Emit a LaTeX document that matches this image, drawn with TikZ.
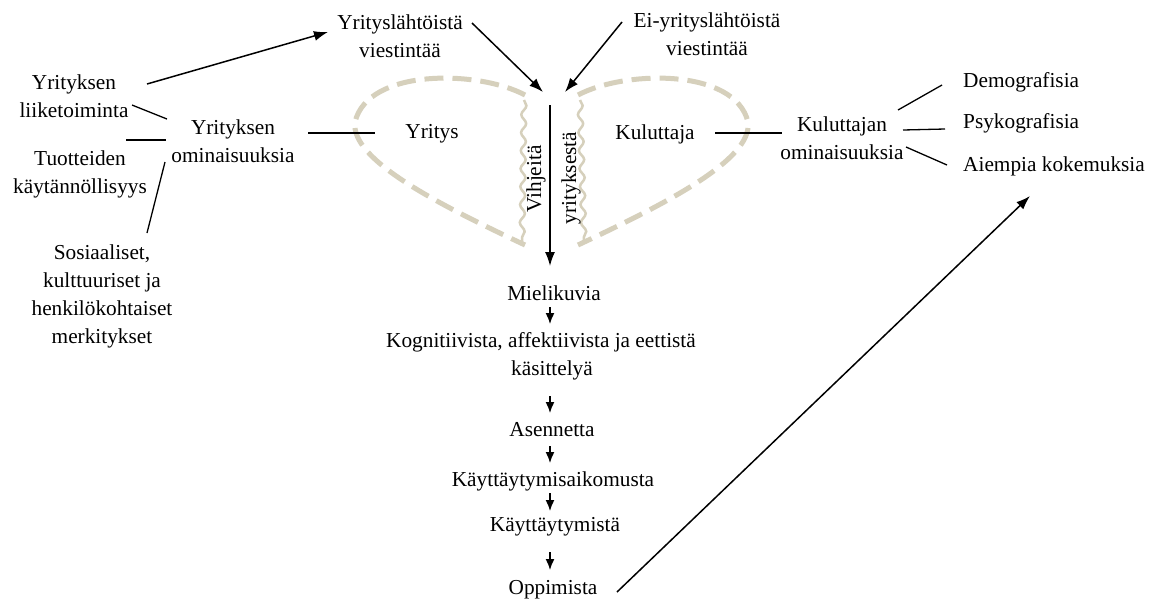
\documentclass[tikz,border=0pt]{standalone}
\usepackage{fontspec}
\setmainfont{Liberation Serif}
\usetikzlibrary{arrows.meta,decorations.pathmorphing,calc}
\definecolor{beige}{RGB}{214,208,188}
\begin{document}
\begin{tikzpicture}[x=1pt,y=-1pt,
  every node/.style={font=\fontsize{21.3}{28}\selectfont, align=center, inner sep=0pt},
  ln/.style={line width=1.3pt},
  arr/.style={line width=1.5pt,-{Latex[length=14pt,width=10pt]}},
  sarr/.style={line width=1.5pt,-{Latex[length=11pt,width=9pt]}},
  lobe/.style={beige,line width=5pt,dash pattern=on 19pt off 9pt},
  wav/.style={beige,line width=2.5pt,decorate,decoration={snake,amplitude=2.5pt,segment length=18pt}}]
\useasboundingbox[fill=white] (0,0) rectangle (1154,603);

% lobes
\draw[lobe] (525,95) .. controls (478,70) and (368,68) .. (355,122) .. controls (350,160) and (440,205) .. (525,245);
\draw[lobe] (578,95) .. controls (625,70) and (735,68) .. (748,122) .. controls (753,160) and (663,205) .. (578,245);
\draw[wav] (524,100) -- (522,242);
\draw[wav] (580,100) -- (584,242);

% nodes
\node (yl) at (400,36) {Yrityslähtöistä\\viestintää};
\node (el) at (707,34) {Ei-yrityslähtöistä\\viestintää};
\node (lik) at (74,96) {Yrityksen\\liiketoiminta};
\node (yo) at (233,141) {Yrityksen\\ominaisuuksia};
\node (tuo) at (80,174) {Tuotteiden\\käytännöllisyys};
\node (sos) at (102,296) {Sosiaaliset,\\kulttuuriset ja\\henkilökohtaiset\\merkitykset};
\node (yr) at (432,134) {Yritys};
\node (ku) at (655,134) {Kuluttaja};
\node (ko) at (842,138) {Kuluttajan\\ominaisuuksia};
\node[anchor=west] (dem) at (963,82) {Demografisia};
\node[anchor=west] (psy) at (963,123) {Psykografisia};
\node[anchor=west] (aie) at (963,166) {Aiempia kokemuksia};
\node[rotate=90] (vih) at (536,179) {Vihjeitä};
\node[rotate=90] (yri) at (571,178) {yrityksestä};
\node (mie) at (554,293) {Mielikuvia};
\node (kog) at (541,356) {Kognitiivista, affektiivista ja eettistä\\\hspace*{22pt}käsittelyä};
\node (ase) at (552,430) {Asennetta};
\node (kai) at (553,481) {Käyttäytymisaikomusta};
\node (kay) at (555,527) {Käyttäytymistä};
\node (opp) at (553,590) {Oppimista};

% coordinates
\coordinate (tipL) at (543,92);
\coordinate (tipR) at (565,92);
\coordinate (vtop) at (550,105);
\coordinate (vbot) at (550,266);
\coordinate (likS) at (147,84);
\coordinate (ylE) at (328,32);
\coordinate (ylS) at (472,23);
\coordinate (elS) at (622,22);
\coordinate (oppS) at (617,592);
\coordinate (aieE) at (1030,196);

% arrows into centre
\draw[arr] (ylS) -- (tipL);
\draw[arr] (elS) -- (tipR);
\draw[arr] (vtop) -- (vbot);
\draw[arr] (likS) -- (ylE);

% plain lines left
\draw[ln] (132,105) -- (167,119);
\draw[ln] (126,140) -- (166,140);
\draw[ln] (165,162) -- (147,233);
\draw[ln] (308,133) -- (375,133);
% right
\draw[ln] (715,133) -- (782,133);
\draw[ln] (898,110) -- (942,85);
\draw[ln] (903,130) -- (945,129);
\draw[ln] (906,147) -- (947,165);

% chain
\draw[sarr] (550,307) -- (550,324);
\draw[sarr] (550,396) -- (550,413);
\draw[sarr] (550,446) -- (550,463);
\draw[sarr] (550,493) -- (550,511);
\draw[sarr] (550,552) -- (550,570);
\draw[arr] (oppS) -- (aieE);
\end{tikzpicture}
\end{document}
